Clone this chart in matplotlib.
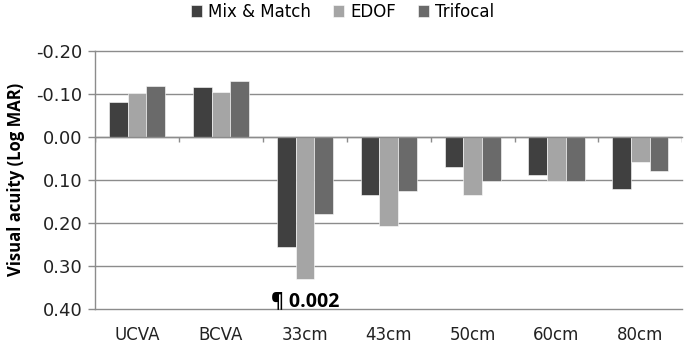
import matplotlib
matplotlib.use("Agg")
import matplotlib.pyplot as plt
import numpy as np

categories = ["UCVA", "BCVA", "33cm", "43cm", "50cm", "60cm", "80cm"]
series_names = ["Mix & Match", "EDOF", "Trifocal"]
mix_match = [-0.081, -0.115, 0.255, 0.136, 0.071, 0.088, 0.122]
edof = [-0.101, -0.104, 0.331, 0.208, 0.136, 0.102, 0.059]
trifocal = [-0.118, -0.129, 0.180, 0.125, 0.102, 0.102, 0.079]
y_ticks = [-0.20, -0.10, 0.00, 0.10, 0.20, 0.30, 0.40]
annotation_text = "¶ 0.002"
annotation_cat = "33cm"
annotation_y = 0.381

colors = ["#404040", "#a5a5a5", "#6a6a6a"]
plt.rcParams['font.family'] = ['DejaVu Sans']

fig = plt.figure(figsize=(6.85, 3.46), dpi=100)
ax = fig.add_axes([0.139, 0.107, 0.857, 0.746])

x = np.arange(len(categories))
w = 0.223
for k, (vals, name, c) in enumerate(zip([mix_match, edof, trifocal], series_names, colors)):
    ax.bar(x + (k - 1) * w, vals, w, color=c, label=name, edgecolor="white", linewidth=0.4, zorder=3)

ax.set_ylim(0.40, -0.20)
ax.set_xlim(-0.5, len(categories) - 0.5)
ax.set_yticks(y_ticks)
ax.set_yticklabels([f"{v:.2f}" for v in y_ticks], fontsize=13, color="#222222")
ax.yaxis.grid(True, color="#8c8c8c", linewidth=1.0, zorder=0)
for gl in ax.get_ygridlines():
    gl.set_clip_on(False)
ax.tick_params(axis="y", length=5, width=1.0, color="#8c8c8c", pad=4)

for s in ["top", "right", "bottom"]:
    ax.spines[s].set_visible(False)
ax.spines["left"].set_color("#8c8c8c")
ax.spines["left"].set_linewidth(1.0)

# zero axis line with category boundary ticks
ax.axhline(0, color="#8c8c8c", linewidth=1.0, zorder=4)
bounds = np.arange(len(categories) + 1) - 0.5
ax.vlines(bounds, 0, 0.012, color="#8c8c8c", linewidth=1.0, zorder=4)

ax.set_xticks(x)
ax.set_xticklabels(categories, fontsize=12, color="#222222")
ax.tick_params(axis="x", length=0, pad=12)

ax.set_ylabel("Visual acuity (Log MAR)", fontsize=12, fontweight="bold", labelpad=8,
              family="Open Sans")

ax.text(categories.index(annotation_cat), annotation_y, annotation_text, ha="center", va="center",
        fontsize=14, fontweight="bold", family="Open Sans", zorder=5)

leg = fig.legend(*ax.get_legend_handles_labels(), loc="center", bbox_to_anchor=(0.5, 1 - 12 / 346),
                 ncol=3, frameon=False, fontsize=12, handlelength=0.7, handleheight=0.7,
                 handletextpad=0.35, columnspacing=1.3, borderaxespad=0, borderpad=0)

fig.savefig("out.png", dpi=100)
